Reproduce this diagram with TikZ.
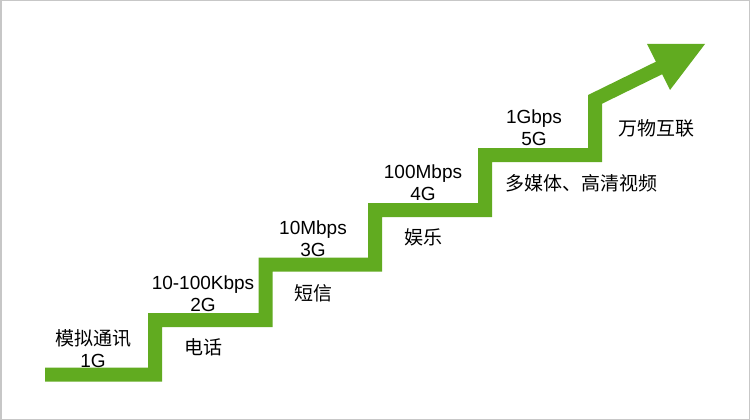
\documentclass[tikz,border=0pt]{standalone}
\usepackage{fontspec}
\setmainfont{Liberation Sans}
\newfontfamily\cjk{Noto Sans CJK SC}
\definecolor{stairgreen}{RGB}{97,171,32}
\begin{document}
\begin{tikzpicture}[x=1pt, y=-1pt,
    rate/.style={align=center, inner sep=0pt, font=\fontsize{19}{22.5}\selectfont},
    usage/.style={inner sep=0pt, font=\fontsize{19}{22.5}\selectfont\cjk}]
  \useasboundingbox (0,0) rectangle (750,420);
  \draw[black!22, line width=1.5pt] (0.75,0.75) rectangle (749.25,419.25);
  \begin{scope}
    \draw[stairgreen, line width=14pt, line join=miter]
      (45,374.5) -- (155,374.5) -- (155,320) -- (265.5,320) -- (265.5,264.5)
      -- (375,264.5) -- (375,210) -- (485,210) -- (485,155) -- (595,155)
      -- (595,99.4) -- (661,67);
    \fill[stairgreen] (647,44) -- (705,44) -- (670,90) -- cycle;
  \end{scope}
  \node[rate]  (g1) at (93,348.5)  {{\cjk 模拟通讯}\\1G};
  \node[rate]  (g2) at (203,293.5) {10-100Kbps\\2G};
  \node[rate]  (g3) at (313,238.5) {10Mbps\\3G};
  \node[rate]  (g4) at (423,182.5) {100Mbps\\4G};
  \node[rate]  (g5) at (534,127.5) {1Gbps\\5G};
  \node[usage] (u2) at (203,347)   {电话};
  \node[usage] (u3) at (313,293)   {短信};
  \node[usage] (u4) at (423,237)   {娱乐};
  \node[usage] (u5) at (581,183)   {多媒体、高清视频};
  \node[usage] (u6) at (656,128)   {万物互联};
\end{tikzpicture}
\end{document}
